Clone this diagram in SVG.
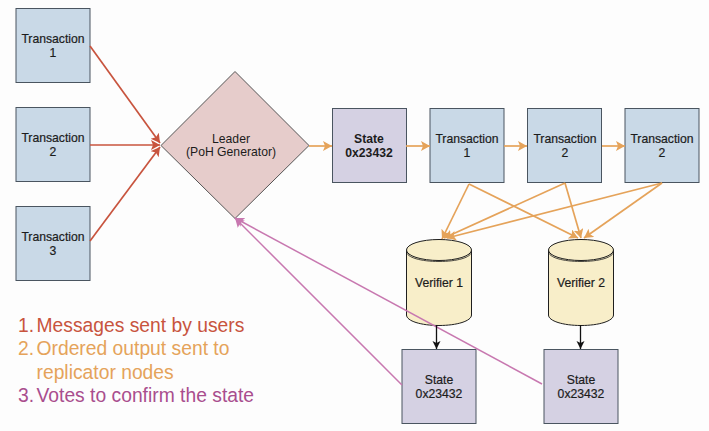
<svg xmlns="http://www.w3.org/2000/svg" width="709" height="431" viewBox="0 0 709 431">
<style>
text{font-family:"Liberation Sans",Arial,sans-serif;font-size:12.2px;fill:#1c1c1c;text-anchor:middle}
.b{font-weight:bold}
.m{stroke:#1c1c1c;stroke-width:.2}
.tx{fill:#c9d9e7;stroke:#4a5560;stroke-width:1}
.st{fill:#d5d1e3;stroke:#4a5560;stroke-width:1}
.cy{fill:#f8eec9;stroke:#1f1f1f;stroke-width:1}
.lg{font-size:19.300px;text-anchor:start}
.lr{fill:#c8543e}.lo{fill:#e5a35a}.lp{fill:#a94e8e}
.r{stroke:#c8543e;stroke-width:1.7;fill:none}
.o{stroke:#e5a35a;stroke-width:1.7;fill:none}
.p{stroke:#c878b0;stroke-width:1.5;fill:none}
.k{stroke:#111;stroke-width:1.3;fill:none}
</style>
<defs>
<marker id="mr" markerUnits="userSpaceOnUse" markerWidth="12" markerHeight="12" refX="9" refY="5" orient="auto"><path d="M0 0L9 5L0 10L2 5Z" fill="#c8543e"/></marker>
<marker id="mo" markerUnits="userSpaceOnUse" markerWidth="12" markerHeight="12" refX="9" refY="5" orient="auto"><path d="M0 0L9 5L0 10L2 5Z" fill="#e5a35a"/></marker>
<marker id="mp" markerUnits="userSpaceOnUse" markerWidth="12" markerHeight="12" refX="9" refY="5" orient="auto"><path d="M0 0L9 5L0 10L2 5Z" fill="#c878b0"/></marker>
<marker id="mk" markerUnits="userSpaceOnUse" markerWidth="10" markerHeight="10" refX="8" refY="4" orient="auto"><path d="M0 0L8 4L0 8L2 4Z" fill="#111"/></marker>
</defs>
<rect width="709" height="431" fill="#fdfdfd"/>
<g id="tx-in-1"><rect class="tx" x="16" y="8.5" width="74" height="74"/><text class="m" x="53" y="43">Transaction</text><text class="m" x="53" y="57">1</text></g>
<g id="tx-in-2"><rect class="tx" x="16" y="107.500" width="74" height="74"/><text class="m" x="53" y="142">Transaction</text><text class="m" x="53" y="156">2</text></g>
<g id="tx-in-3"><rect class="tx" x="16" y="206.500" width="74" height="74"/><text class="m" x="53" y="241">Transaction</text><text class="m" x="53" y="255">3</text></g>
<g id="leader"><path d="M235 71.500L309 145.500L235 218.500L161 145.500Z" fill="#e6cccb" stroke="#555" stroke-width="1"/><text x="231" y="143">Leader</text><text x="231" y="156">(PoH Generator)</text></g>
<g id="state-0"><rect class="st" x="332.500" y="108.500" width="74" height="74"/><text class="b" x="369" y="143">State</text><text class="b" x="369" y="157">0x23432</text></g>
<g id="tx-out-1"><rect class="tx" x="430" y="108.500" width="74" height="74"/><text class="m" x="467" y="143">Transaction</text><text class="m" x="467" y="157">1</text></g>
<g id="tx-out-2"><rect class="tx" x="527.500" y="108.500" width="74" height="74"/><text class="m" x="565" y="143">Transaction</text><text class="m" x="565" y="157">2</text></g>
<g id="tx-out-3"><rect class="tx" x="625" y="108.500" width="74" height="74"/><text class="m" x="662" y="143">Transaction</text><text class="m" x="662" y="157">2</text></g>
<g id="verifier-1"><path class="cy" d="M406.500 250V315C406.500 321 421 325.500 439 325.500S471.500 321 471.500 315V250Z"/><ellipse class="cy" cx="439" cy="250" rx="32.500" ry="10.500"/><path d="M406.500 251.500C406.500 257.500 421 261.500 439 261.500S471.500 257.500 471.500 251.500" fill="none" stroke="#1f1f1f" stroke-width="0.8"/><text class="m" x="439" y="287">Verifier 1</text></g>
<g id="verifier-2"><path class="cy" d="M548.500 250V315C548.500 321 563 325.500 581 325.500S613.500 321 613.500 315V250Z"/><ellipse class="cy" cx="581" cy="250" rx="32.500" ry="10.500"/><path d="M548.500 251.500C548.500 257.500 563 261.500 581 261.500S613.500 257.500 613.500 251.500" fill="none" stroke="#1f1f1f" stroke-width="0.8"/><text class="m" x="581" y="287">Verifier 2</text></g>
<g id="state-1"><rect class="st" x="402" y="349.500" width="74" height="74"/><text class="m" x="439" y="384">State</text><text class="m" x="439" y="398">0x23432</text></g>
<g id="state-2"><rect class="st" x="544" y="349.500" width="74" height="74"/><text class="m" x="581" y="384">State</text><text class="m" x="581" y="398">0x23432</text></g>
<g id="connectors">
<path class="r" marker-end="url(#mr)" d="M90 46L160 143"/>
<path class="r" marker-end="url(#mr)" d="M90 145L160 145"/>
<path class="r" marker-end="url(#mr)" d="M90 241L160 147"/>
<path class="o" marker-end="url(#mo)" d="M309 146L332 146"/>
<path class="o" marker-end="url(#mo)" d="M406 146L430 146"/>
<path class="o" marker-end="url(#mo)" d="M504 146L527 146"/>
<path class="o" marker-end="url(#mo)" d="M602 146L625 146"/>
<path class="o" marker-end="url(#mo)" d="M469 184L442 239"/>
<path class="o" marker-end="url(#mo)" d="M469 184L578 238"/>
<path class="o" marker-end="url(#mo)" d="M565 183L444 238"/>
<path class="o" marker-end="url(#mo)" d="M565 183L581 238"/>
<path class="o" marker-end="url(#mo)" d="M662 183L447 238"/>
<path class="o" marker-end="url(#mo)" d="M662 183L584 238"/>
<path class="p" marker-end="url(#mp)" d="M402 385L235 218"/>
<path class="p" marker-end="url(#mp)" d="M542 384L235 218"/>
<path class="k" marker-end="url(#mk)" d="M436.500 325L436.500 349"/>
<path class="k" marker-end="url(#mk)" d="M580.500 325L580.500 349"/>
</g>
<g id="legend">
<text class="lg lr" x="18" y="332">1.</text><text class="lg lr" x="36.500" y="332">Messages sent by users</text>
<text class="lg lo" x="18" y="355">2.</text><text class="lg lo" x="36.500" y="355">Ordered output sent to</text>
<text class="lg lo" x="36.500" y="379">replicator nodes</text>
<text class="lg lp" x="18" y="402">3.</text><text class="lg lp" x="36.500" y="402">Votes to confirm the state</text>
</g>
</svg>
